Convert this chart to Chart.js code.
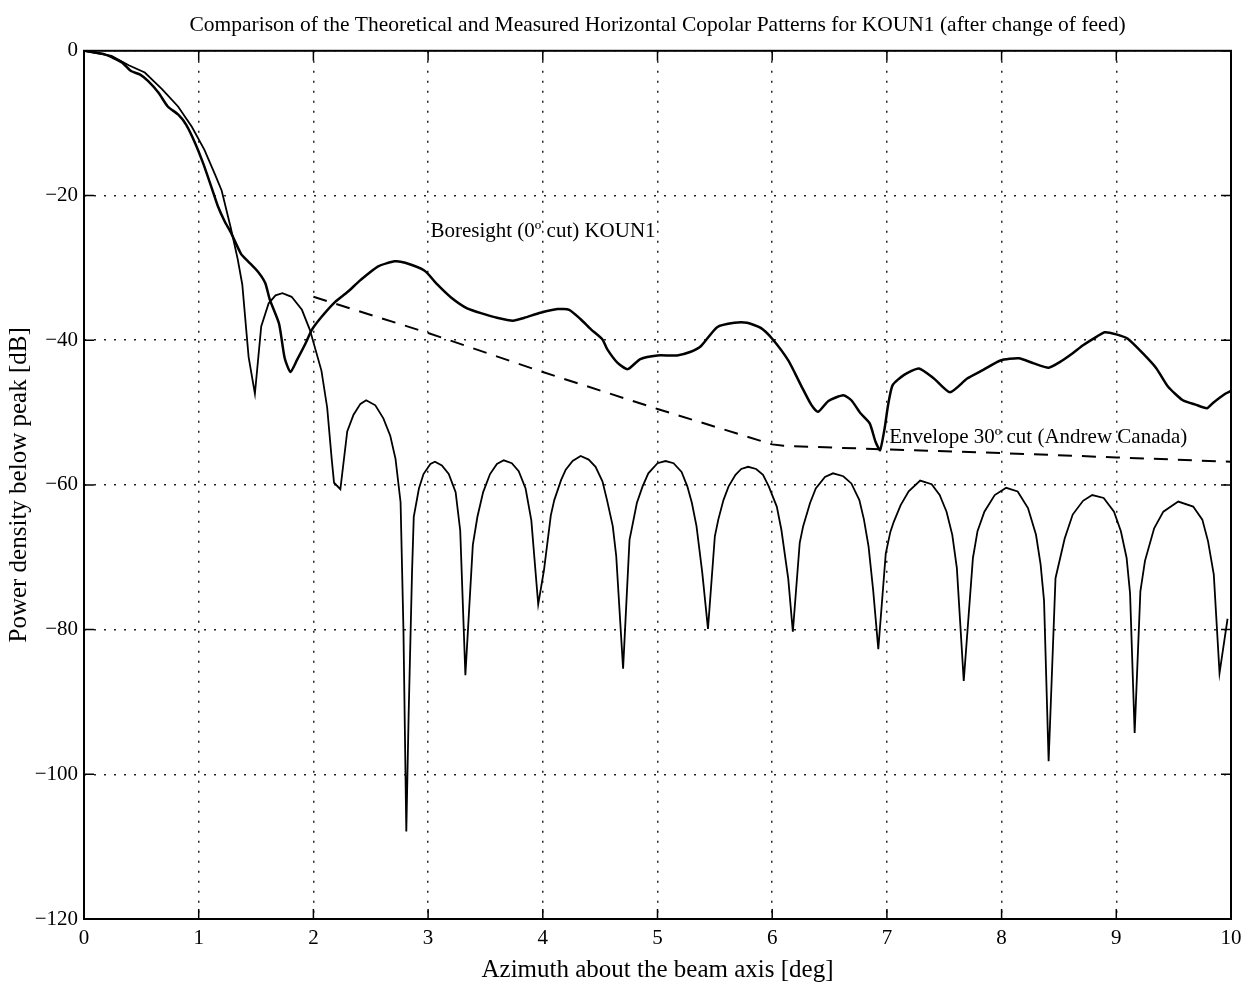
<!DOCTYPE html>
<html>
<head>
<meta charset="utf-8">
<title>KOUN1 copolar patterns</title>
<script src="https://cdn.jsdelivr.net/npm/chart.js@4.4.1/dist/chart.umd.min.js"></script>
<style>
  html, body { margin: 0; padding: 0; background: #fff; }
  #wrap { width: 1254px; height: 984px; }
</style>
</head>
<body>
<div id="wrap"><canvas id="c" width="1254" height="984"></canvas></div>
<script>
// ---------- data ----------
const chartTitle = 'Comparison of the Theoretical and Measured Horizontal Copolar Patterns for KOUN1 (after change of feed)';
const xAxisTitle = 'Azimuth about the beam axis [deg]';
const yAxisTitle = 'Power density below peak [dB]';

const xTickValues = [0, 1, 2, 3, 4, 5, 6, 7, 8, 9, 10];
const yTickValues = [0, -20, -40, -60, -80, -100, -120];

// Theoretical pattern (thin line, deep nulls)
const theoX = [0, 0.24, 0.39, 0.53, 0.68, 0.82, 0.94, 1.05, 1.14, 1.20, 1.28, 1.34, 1.38, 1.435, 1.49, 1.545, 1.61, 1.67, 1.73, 1.81, 1.90, 1.97, 2.07, 2.12, 2.16, 2.18, 2.235, 2.295, 2.35, 2.41, 2.46, 2.54, 2.61, 2.67, 2.716, 2.76, 2.785, 2.81, 2.83, 2.86, 2.875, 2.92, 2.96, 3.02, 3.06, 3.12, 3.18, 3.24, 3.28, 3.325, 3.39, 3.43, 3.48, 3.54, 3.60, 3.66, 3.73, 3.79, 3.85, 3.90, 3.96, 4.01, 4.07, 4.10, 4.16, 4.20, 4.26, 4.33, 4.40, 4.46, 4.52, 4.56, 4.61, 4.64, 4.70, 4.756, 4.78, 4.82, 4.87, 4.92, 5.00, 5.07, 5.14, 5.21, 5.26, 5.30, 5.34, 5.39, 5.44, 5.50, 5.53, 5.575, 5.62, 5.68, 5.73, 5.79, 5.86, 5.92, 5.97, 6.04, 6.08, 6.14, 6.18, 6.24, 6.27, 6.33, 6.38, 6.46, 6.53, 6.62, 6.69, 6.76, 6.80, 6.84, 6.88, 6.925, 6.99, 7.03, 7.06, 7.12, 7.19, 7.29, 7.39, 7.46, 7.52, 7.57, 7.61, 7.67, 7.75, 7.79, 7.85, 7.94, 8.04, 8.14, 8.23, 8.30, 8.34, 8.37, 8.41, 8.47, 8.55, 8.62, 8.71, 8.79, 8.89, 8.98, 9.04, 9.09, 9.12, 9.16, 9.21, 9.25, 9.33, 9.41, 9.54, 9.67, 9.75, 9.80, 9.85, 9.90, 9.97];
const theoY = [0, -0.7, -2.0, -3.0, -5.3, -7.7, -10.5, -13.7, -17.0, -19.3, -24.5, -28.8, -32.3, -42.3, -47.4, -38.1, -34.9, -33.8, -33.5, -34.0, -35.8, -38.6, -44.2, -49.3, -56.5, -59.7, -60.6, -52.6, -50.3, -48.8, -48.3, -49.0, -50.8, -53.2, -56.4, -62.4, -80.0, -107.9, -92.0, -72.0, -64.4, -60.5, -58.5, -57.1, -56.8, -57.3, -58.5, -61.0, -66.3, -86.3, -68.3, -64.4, -61.0, -58.5, -57.1, -56.6, -57.0, -58.1, -60.5, -64.9, -76.5, -71.8, -64.2, -62.1, -59.3, -57.9, -56.7, -56.0, -56.5, -57.5, -59.5, -62.1, -65.7, -69.8, -85.4, -67.6, -65.7, -62.5, -60.2, -58.4, -57.0, -56.7, -57.0, -58.2, -60.2, -62.5, -65.7, -72.1, -79.9, -67.1, -64.8, -62.1, -60.2, -58.6, -57.8, -57.5, -57.8, -58.6, -60.2, -63.0, -66.2, -73.0, -80.3, -68.0, -65.7, -62.5, -60.5, -58.9, -58.4, -58.8, -59.8, -62.1, -64.8, -68.5, -74.5, -82.7, -69.5, -66.5, -65.1, -62.8, -60.9, -59.4, -59.9, -61.4, -63.7, -66.9, -71.5, -87.1, -70.1, -66.4, -63.7, -61.4, -60.4, -60.9, -63.2, -66.9, -71.0, -76.0, -98.2, -72.9, -67.4, -64.1, -62.2, -61.4, -61.8, -63.7, -66.4, -70.1, -75.0, -94.3, -74.7, -70.5, -66.0, -63.7, -62.3, -63.0, -64.8, -67.8, -72.4, -86.0, -78.5];

// Measured boresight (0 deg cut) KOUN1 (thick line)
const measX = [0, 0.18, 0.33, 0.41, 0.49, 0.56, 0.65, 0.73, 0.82, 0.89, 0.97, 1.04, 1.11, 1.17, 1.23, 1.28, 1.37, 1.43, 1.52, 1.58, 1.62, 1.70, 1.75, 1.80, 1.855, 1.93, 1.985, 2.07, 2.19, 2.30, 2.41, 2.565, 2.71, 2.80, 2.97, 3.08, 3.20, 3.34, 3.49, 3.60, 3.74, 3.84, 3.98, 4.13, 4.23, 4.33, 4.42, 4.52, 4.56, 4.65, 4.74, 4.85, 5.00, 5.17, 5.29, 5.38, 5.52, 5.67, 5.78, 5.90, 6.00, 6.14, 6.25, 6.34, 6.40, 6.49, 6.62, 6.69, 6.77, 6.85, 6.90, 6.94, 6.98, 7.01, 7.05, 7.15, 7.28, 7.41, 7.55, 7.70, 7.84, 7.99, 8.15, 8.28, 8.41, 8.51, 8.62, 8.71, 8.83, 8.90, 9.00, 9.10, 9.23, 9.35, 9.45, 9.58, 9.69, 9.79, 9.84, 9.95, 10.0];
const measY = [0, -0.5, -1.6, -2.8, -3.3, -4.2, -5.8, -7.7, -8.8, -10.2, -12.8, -15.6, -18.8, -21.6, -23.7, -25.1, -28.1, -29.1, -30.6, -32.1, -34.4, -37.7, -42.5, -44.4, -42.8, -40.5, -38.6, -36.8, -34.7, -33.3, -31.7, -29.8, -29.1, -29.3, -30.4, -32.3, -34.1, -35.6, -36.4, -36.9, -37.3, -36.9, -36.2, -35.7, -35.8, -37.1, -38.5, -39.9, -41.2, -43.1, -44.0, -42.6, -42.1, -42.1, -41.6, -40.8, -38.2, -37.6, -37.6, -38.3, -39.8, -42.8, -46.2, -48.9, -49.9, -48.4, -47.6, -48.3, -50.1, -51.5, -54.0, -55.2, -52.2, -49.0, -46.2, -44.8, -43.9, -45.3, -47.2, -45.3, -44.1, -42.8, -42.5, -43.2, -43.8, -43.0, -41.8, -40.7, -39.5, -38.9, -39.2, -39.8, -41.8, -43.9, -46.4, -48.3, -48.9, -49.4, -48.7, -47.4, -47.0];

// Envelope 30 deg cut (Andrew Canada), dashed
const envX = [2.0, 3.0, 4.0, 5.0, 6.0, 6.1, 7.0, 8.0, 9.0, 10.0];
const envY = [-34.0, -39.0, -44.4, -49.5, -54.4, -54.6, -55.1, -55.6, -56.2, -56.8];

// In-plot labels and their anchor values (x in deg, y in dB)
const noteTexts = ['Boresight (0\u00BA cut) KOUN1', 'Envelope 30\u00BA cut (Andrew Canada)'];
const noteX = [3.02, 7.02];
const noteY = [-25.0, -53.4];

// ---------- chart ----------
const SERIF = '"Liberation Serif", "Times New Roman", serif';
const pairs = (xs, ys) => xs.map((v, i) => ({x: v, y: ys[i]}));

const framePlugin = {
  id: 'frameAndNotes',
  afterDatasetsDraw(chart) {
    const {ctx, chartArea: a, scales} = chart;
    const sx = scales.x, sy = scales.y;
    const tickLen = 10;
    ctx.save();
    ctx.strokeStyle = '#000';
    ctx.lineWidth = 1.5;
    ctx.beginPath();
    xTickValues.forEach(v => {
      const p = sx.getPixelForValue(v);
      ctx.moveTo(p, a.bottom); ctx.lineTo(p, a.bottom - tickLen);
      ctx.moveTo(p, a.top); ctx.lineTo(p, a.top + tickLen);
    });
    yTickValues.forEach(v => {
      const p = sy.getPixelForValue(v);
      ctx.moveTo(a.left, p); ctx.lineTo(a.left + tickLen, p);
      ctx.moveTo(a.right, p); ctx.lineTo(a.right - tickLen, p);
    });
    ctx.stroke();
    ctx.lineWidth = 2;
    ctx.strokeRect(a.left, a.top, a.right - a.left, a.bottom - a.top);
    ctx.fillStyle = '#000';
    ctx.font = '21px ' + SERIF;
    ctx.textAlign = 'left';
    ctx.textBaseline = 'middle';
    noteTexts.forEach((t, i) => {
      ctx.fillText(t, sx.getPixelForValue(noteX[i]), sy.getPixelForValue(noteY[i]));
    });
    ctx.restore();
  }
};

const gridStyle = {
  color: '#222',
  lineWidth: 1.5,
  drawTicks: false
};

new Chart(document.getElementById('c'), {
  type: 'line',
  data: {
    datasets: [
      {
        label: 'Theoretical',
        data: pairs(theoX, theoY),
        borderColor: '#000',
        borderWidth: 1.8,
        pointRadius: 0,
        tension: 0,
        fill: false
      },
      {
        label: 'Boresight (0\u00BA cut) KOUN1',
        data: pairs(measX, measY),
        borderColor: '#000',
        borderWidth: 2.5,
        pointRadius: 0,
        tension: 0.2,
        fill: false
      },
      {
        label: 'Envelope 30\u00BA cut (Andrew Canada)',
        data: pairs(envX, envY),
        borderColor: '#000',
        borderWidth: 2,
        borderDash: [14, 10],
        pointRadius: 0,
        tension: 0,
        fill: false
      }
    ]
  },
  options: {
    responsive: false,
    animation: false,
    devicePixelRatio: 1,
    layout: { padding: { left: 0, right: 23, top: 0, bottom: 0 } },
    plugins: {
      legend: { display: false },
      tooltip: { enabled: false },
      title: {
        display: true,
        text: chartTitle,
        fullSize: false,
        color: '#000',
        font: { family: SERIF, size: 21.5, weight: 'normal' },
        padding: { top: 12, bottom: 13 }
      }
    },
    scales: {
      x: {
        type: 'linear',
        min: 0, max: 10,
        afterFit: s => { s.height = 65; },
        afterBuildTicks: s => { s.ticks = xTickValues.map(v => ({value: v})); },
        ticks: {
          color: '#000',
          padding: 7,
          maxRotation: 0,
          font: { family: SERIF, size: 21 },
          callback: v => String(v)
        },
        grid: gridStyle,
        border: { display: false, dash: [2, 8] },
        title: {
          display: true,
          text: xAxisTitle,
          color: '#000',
          font: { family: SERIF, size: 25 },
          padding: { top: 0, bottom: -1 }
        }
      },
      y: {
        type: 'linear',
        min: -120, max: 0,
        afterFit: s => { s.width = 84; },
        afterBuildTicks: s => { s.ticks = yTickValues.map(v => ({value: v})); },
        ticks: {
          color: '#000',
          padding: 6,
          font: { family: SERIF, size: 21 },
          callback: v => String(v).replace('-', '\u2212')
        },
        grid: gridStyle,
        border: { display: false, dash: [2, 8] },
        title: {
          display: true,
          text: yAxisTitle,
          color: '#000',
          font: { family: SERIF, size: 25 },
          padding: { top: 4, bottom: 0 }
        }
      }
    }
  },
  plugins: [framePlugin]
});
</script>
</body>
</html>
